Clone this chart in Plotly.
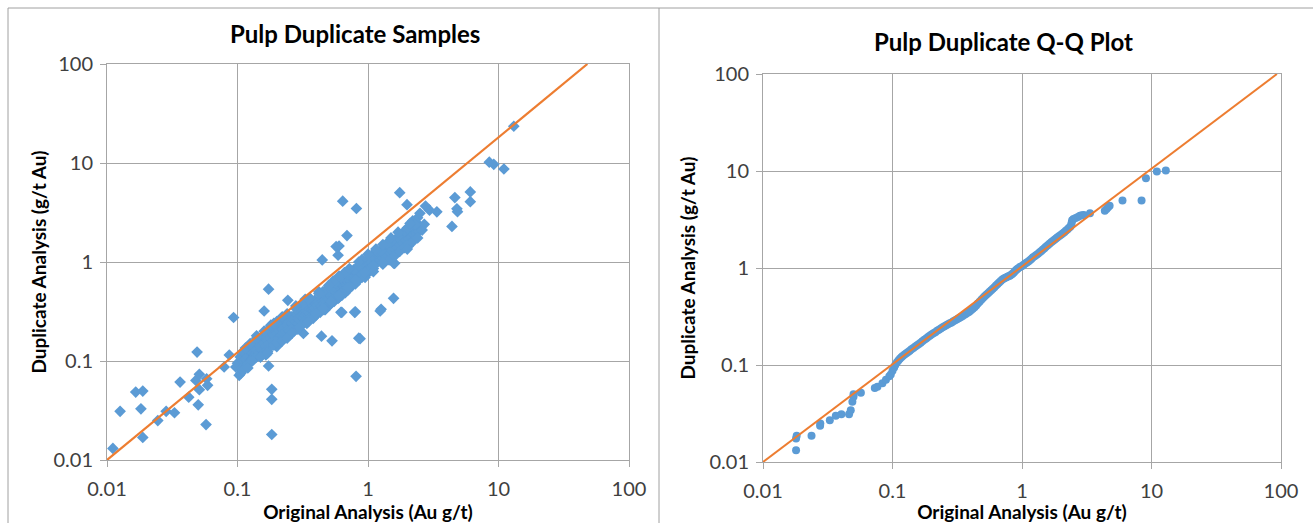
import plotly.graph_objects as go

# ---- data: left panel, original vs duplicate (g/t Au) ----
orig_au = [
    # low-grade outliers
    0.0111, 0.0126, 0.0166, 0.0188, 0.0182, 0.0188, 0.0245, 0.0284, 0.0329, 0.0363,
    0.0423, 0.049, 0.048, 0.051, 0.051, 0.05, 0.059, 0.0574, 0.058, 0.0933,
    0.0865, 0.079, 0.097, 0.103, 0.106, 0.183, 0.183, 0.183, 0.173, 0.173,
    0.81, 0.85, 0.87, 0.80, 1.26, 1.57, 1.57, 0.62, 0.53, 0.44,
    0.32, 0.243, 0.16, 0.446, 0.57, 0.6, 0.59, 0.64, 0.815, 1.75,
    1.99, 2.76, 2.96, 3.37, 4.63, 6.08, 6.08, 4.8, 4.85, 4.4,
    8.5, 9.2, 11.0, 13.1, 0.69, 1.24, 0.79, 0.63, 2.02, 1.6,
    # 0.10 - 0.15
    0.10, 0.105, 0.11, 0.11, 0.115, 0.12, 0.12, 0.125, 0.13, 0.13,
    0.135, 0.14, 0.14, 0.145, 0.15, 0.15, 0.155, 0.12, 0.13, 0.14,
    0.115, 0.125, 0.108, 0.118,
    # 0.15 - 0.25
    0.16, 0.16, 0.165, 0.17, 0.17, 0.175, 0.18, 0.18, 0.185, 0.19,
    0.19, 0.195, 0.2, 0.2, 0.205, 0.21, 0.21, 0.215, 0.22, 0.22,
    0.225, 0.23, 0.23, 0.235, 0.24, 0.245, 0.25, 0.17, 0.19, 0.21,
    0.23, 0.25, 0.165, 0.2, 0.24, 0.2, 0.18,
    # 0.25 - 0.40
    0.26, 0.26, 0.27, 0.27, 0.28, 0.28, 0.29, 0.29, 0.3, 0.3,
    0.31, 0.31, 0.32, 0.32, 0.33, 0.33, 0.34, 0.34, 0.35, 0.35,
    0.36, 0.36, 0.37, 0.37, 0.38, 0.38, 0.39, 0.39, 0.4, 0.4,
    0.27, 0.29, 0.31, 0.33, 0.35, 0.37, 0.39, 0.28, 0.32, 0.36,
    0.3, 0.34, 0.38,
    # 0.40 - 0.70
    0.41, 0.42, 0.42, 0.43, 0.44, 0.44, 0.45, 0.46, 0.46, 0.47,
    0.48, 0.48, 0.49, 0.5, 0.5, 0.52, 0.52, 0.53, 0.54, 0.55,
    0.55, 0.56, 0.57, 0.58, 0.58, 0.6, 0.6, 0.62, 0.62, 0.63,
    0.64, 0.65, 0.66, 0.67, 0.68, 0.69, 0.7, 0.7, 0.43, 0.47,
    0.51, 0.55, 0.59, 0.63, 0.67, 0.45, 0.5, 0.56, 0.62, 0.68,
    0.48, 0.53, 0.58, 0.64, 0.69,
    # 0.70 - 1.20
    0.72, 0.73, 0.74, 0.75, 0.76, 0.77, 0.78, 0.79, 0.8, 0.81,
    0.82, 0.83, 0.84, 0.85, 0.86, 0.87, 0.88, 0.9, 0.91, 0.92,
    0.94, 0.95, 0.96, 0.98, 1.0, 1.0, 1.02, 1.04, 1.05, 1.07,
    1.09, 1.1, 1.12, 1.14, 1.15, 1.17, 1.19, 1.2, 0.75, 0.8,
    0.85, 0.9, 0.95, 1.0, 1.05, 1.1, 0.78, 0.85, 0.92, 1.0,
    1.08, 0.88, 0.98,
    # 1.20 - 2.80
    1.22, 1.25, 1.27, 1.3, 1.32, 1.35, 1.38, 1.4, 1.43, 1.46,
    1.5, 1.53, 1.56, 1.6, 1.64, 1.68, 1.72, 1.76, 1.8, 1.85,
    1.9, 1.95, 2.0, 2.05, 2.1, 2.15, 2.2, 2.25, 2.3, 2.35,
    2.4, 2.45, 2.5, 1.3, 1.45, 1.6, 1.75, 1.9, 2.05, 1.5,
    1.7, 1.9, 2.1, 2.3, 2.0, 2.2, 2.4, 2.6, 2.7, 1.25,
    2.2, 2.4, 2.5, 2.3, 2.0,
    # extra spread of the main band
    0.11, 0.13, 0.15, 0.17, 0.19, 0.22, 0.26, 0.3, 0.35, 0.4,
    0.46, 0.52, 0.6, 0.7, 0.8, 0.95, 1.1, 1.3, 0.14, 0.18,
    0.24, 0.33, 0.42, 0.54, 0.66, 0.9, 1.15, 1.4, 1.7, 2.1,
    0.12, 0.15, 0.17, 0.2, 0.22, 0.26, 0.24, 0.14, 0.16, 0.19,
    0.22, 0.28, 0.35, 0.42, 0.5, 0.6, 0.72, 0.85, 1.0, 1.15,
    1.3, 1.5, 0.4, 0.45, 0.52, 0.6, 0.7, 0.8, 0.95, 1.1,
]
dup_au = [
    0.0131, 0.031, 0.0485, 0.0497, 0.0329, 0.0169, 0.025, 0.031, 0.030, 0.0612,
    0.0431, 0.123, 0.0637, 0.0733, 0.0513, 0.0361, 0.0568, 0.0228, 0.066, 0.275,
    0.115, 0.087, 0.087, 0.0716, 0.075, 0.0517, 0.041, 0.0181, 0.089, 0.531,
    0.07, 0.17, 0.168, 0.314, 0.333, 0.43, 0.975, 0.31, 0.16, 0.178,
    0.19, 0.41, 0.32, 1.05, 1.43, 1.45, 1.17, 4.12, 3.47, 5.02,
    3.79, 3.67, 3.34, 3.21, 4.47, 5.1, 4.07, 3.45, 3.22, 2.29,
    10.2, 9.7, 8.7, 23.5, 1.85, 0.32, 0.31, 0.31, 1.43, 0.97,
    0.095, 0.11, 0.10, 0.125, 0.105, 0.11, 0.13, 0.10, 0.12, 0.14,
    0.115, 0.13, 0.155, 0.12, 0.14, 0.165, 0.13, 0.095, 0.105, 0.11,
    0.135, 0.15, 0.085, 0.09,
    0.15, 0.175, 0.14, 0.16, 0.19, 0.15, 0.17, 0.2, 0.16, 0.18,
    0.21, 0.165, 0.19, 0.22, 0.17, 0.2, 0.23, 0.18, 0.21, 0.24,
    0.19, 0.22, 0.26, 0.2, 0.23, 0.21, 0.25, 0.13, 0.145, 0.155,
    0.17, 0.2, 0.115, 0.14, 0.29, 0.25, 0.225,
    0.24, 0.28, 0.22, 0.26, 0.25, 0.3, 0.24, 0.27, 0.26, 0.31,
    0.28, 0.33, 0.27, 0.3, 0.29, 0.35, 0.3, 0.32, 0.31, 0.37,
    0.3, 0.34, 0.33, 0.39, 0.32, 0.36, 0.34, 0.41, 0.35, 0.38,
    0.2, 0.21, 0.23, 0.25, 0.26, 0.28, 0.29, 0.34, 0.38, 0.43,
    0.22, 0.24, 0.27,
    0.37, 0.4, 0.35, 0.38, 0.42, 0.36, 0.4, 0.44, 0.38, 0.42,
    0.46, 0.4, 0.44, 0.48, 0.42, 0.46, 0.5, 0.44, 0.49, 0.52,
    0.46, 0.5, 0.55, 0.49, 0.53, 0.57, 0.51, 0.55, 0.6, 0.53,
    0.58, 0.63, 0.56, 0.61, 0.66, 0.58, 0.64, 0.68, 0.31, 0.33,
    0.37, 0.4, 0.43, 0.46, 0.49, 0.5, 0.56, 0.62, 0.7, 0.76,
    0.35, 0.39, 0.45, 0.5, 0.53,
    0.66, 0.7, 0.63, 0.72, 0.68, 0.75, 0.66, 0.73, 0.78, 0.7,
    0.76, 0.82, 0.73, 0.8, 0.86, 0.76, 0.83, 0.88, 0.79, 0.86,
    0.92, 0.83, 0.9, 0.96, 0.87, 0.94, 1.0, 0.9, 0.98, 1.04,
    0.94, 1.02, 1.08, 0.97, 1.05, 1.12, 1.0, 1.09, 0.57, 0.62,
    0.66, 0.7, 0.74, 0.78, 0.82, 0.86, 0.84, 0.92, 1.0, 1.08,
    1.16, 0.72, 0.8,
    1.14, 1.05, 1.18, 1.1, 1.24, 1.15, 1.3, 1.2, 1.35, 1.26,
    1.4, 1.3, 1.47, 1.36, 1.53, 1.42, 1.6, 1.5, 1.68, 1.56,
    1.76, 1.64, 1.84, 1.72, 1.92, 1.8, 2.0, 1.88, 2.1, 1.95,
    2.2, 2.05, 2.3, 0.95, 1.05, 1.15, 1.28, 1.4, 1.52, 1.6,
    1.8, 2.05, 2.3, 2.5, 1.35, 1.6, 1.75, 2.1, 2.4, 1.3,
    2.6, 2.8, 3.1, 2.4, 2.2,
    0.08, 0.1, 0.11, 0.125, 0.145, 0.16, 0.19, 0.22, 0.25, 0.29,
    0.33, 0.38, 0.44, 0.52, 0.6, 0.7, 0.8, 0.98, 0.18, 0.23,
    0.3, 0.42, 0.5, 0.64, 0.78, 1.06, 1.3, 1.55, 2.0, 2.45,
    0.085, 0.11, 0.12, 0.155, 0.16, 0.19, 0.17, 0.17, 0.2, 0.24,
    0.28, 0.36, 0.42, 0.48, 0.58, 0.72, 0.86, 1.0, 1.2, 1.35,
    1.5, 1.75, 0.3, 0.34, 0.4, 0.46, 0.55, 0.66, 0.78, 0.92,
]

# ---- data: right panel, sorted quantiles ----
qq_orig = [
    0.018, 0.018, 0.0182, 0.0237, 0.0276, 0.0277, 0.0328, 0.0365, 0.0403, 0.0462,
    0.0476, 0.049, 0.05, 0.05, 0.057, 0.073, 0.0765, 0.0836, 0.089, 0.0945,
    0.097, 0.1, 0.103, 0.105, 0.108, 0.111, 0.114, 0.117, 0.12, 0.124,
    0.128, 0.132, 0.136, 0.14, 0.145, 0.15, 0.155, 0.16, 0.165, 0.17,
    0.176, 0.182, 0.188, 0.194, 0.2, 0.207, 0.214, 0.221, 0.228, 0.236,
    0.244, 0.252, 0.26, 0.268, 0.277, 0.286, 0.295, 0.305, 0.315, 0.325,
    0.335, 0.346, 0.357, 0.368, 0.38, 0.392, 0.404, 0.417, 0.43, 0.443,
    0.456, 0.47, 0.485, 0.5, 0.515, 0.53, 0.546, 0.562, 0.578, 0.595,
    0.612, 0.63, 0.648, 0.666, 0.685, 0.705, 0.725, 0.745, 0.765, 0.785,
    0.805, 0.825, 0.845, 0.865, 0.885, 0.905, 0.925, 0.95, 0.975, 1.0,
    1.03, 1.06, 1.09, 1.12, 1.15, 1.18, 1.21, 1.25, 1.29, 1.33,
    1.37, 1.41, 1.45, 1.49, 1.53, 1.58, 1.63, 1.68, 1.73, 1.78,
    1.83, 1.88, 1.94, 2.0, 2.06, 2.12, 2.18, 2.24, 2.3, 2.36,
    2.4, 2.42, 2.44, 2.5, 2.6, 2.7, 2.8, 2.9, 3.0, 3.35,
    4.36, 4.5, 4.62, 4.75, 5.97, 8.38, 9.06, 11.0, 12.9,
]
qq_dup = [
    0.0132, 0.0175, 0.0186, 0.0186, 0.0236, 0.0249, 0.027, 0.0299, 0.031, 0.031,
    0.0342, 0.0417, 0.047, 0.05, 0.0517, 0.058, 0.0597, 0.0648, 0.0703, 0.0766,
    0.08, 0.087, 0.094, 0.1, 0.106, 0.111, 0.116, 0.12, 0.124, 0.128,
    0.132, 0.136, 0.14, 0.145, 0.15, 0.155, 0.16, 0.165, 0.17, 0.176,
    0.182, 0.188, 0.194, 0.2, 0.206, 0.212, 0.218, 0.225, 0.231, 0.238,
    0.245, 0.251, 0.257, 0.263, 0.269, 0.275, 0.282, 0.289, 0.296, 0.304,
    0.311, 0.319, 0.327, 0.336, 0.345, 0.355, 0.366, 0.379, 0.394, 0.41,
    0.43, 0.45, 0.47, 0.49, 0.51, 0.53, 0.55, 0.57, 0.59, 0.61,
    0.635, 0.66, 0.685, 0.71, 0.735, 0.76, 0.78, 0.795, 0.81, 0.82,
    0.83, 0.85, 0.875, 0.9, 0.93, 0.96, 0.985, 1.01, 1.03, 1.05,
    1.08, 1.11, 1.14, 1.17, 1.2, 1.24, 1.28, 1.32, 1.36, 1.4,
    1.45, 1.5, 1.55, 1.6, 1.66, 1.72, 1.78, 1.84, 1.9, 1.96,
    2.02, 2.08, 2.14, 2.2, 2.27, 2.34, 2.42, 2.5, 2.58, 2.66,
    2.8, 2.95, 3.1, 3.2, 3.28, 3.36, 3.45, 3.5, 3.52, 3.67,
    3.9, 4.05, 4.24, 4.37, 4.95, 4.95, 8.41, 9.9, 10.1,
]

# reference lines (end points as drawn in the source charts)
left_line_x = [0.01, 48]
left_line_y = [0.01, 100]
right_line_x = [0.01, 93]
right_line_y = [0.01, 100]

tick_vals = [0.01, 0.1, 1, 10, 100]
tick_text = ["0.01", "0.1", "1", "10", "100"]

W, H = 1313, 523
FONT = "Lato, 'Open Sans', sans-serif"
BLUE = "#5B9BD5"
ORANGE = "#ED7D31"
GRID = "#A6A6A6"

fig = go.Figure()

fig.add_trace(go.Scatter(
    x=orig_au, y=dup_au, mode="markers", xaxis="x", yaxis="y",
    marker=dict(symbol="diamond", size=9, color=BLUE), hoverinfo="skip",
))
fig.add_trace(go.Scatter(
    x=left_line_x, y=left_line_y, mode="lines", xaxis="x", yaxis="y",
    line=dict(color=ORANGE, width=2.2), hoverinfo="skip",
))
fig.add_trace(go.Scatter(
    x=qq_orig, y=qq_dup, mode="markers", xaxis="x2", yaxis="y2",
    marker=dict(symbol="circle", size=8, color=BLUE), hoverinfo="skip",
))
fig.add_trace(go.Scatter(
    x=right_line_x, y=right_line_y, mode="lines", xaxis="x2", yaxis="y2",
    line=dict(color=ORANGE, width=2), hoverinfo="skip",
))


def px_x(v):
    return v / W


def px_y(v):
    return 1 - v / H


def axis(domain, anchor, title, standoff, is_x):
    return dict(
        type="log", range=[-2, 2], domain=domain, anchor=anchor,
        automargin=False,
        tickvals=tick_vals, ticktext=tick_text,
        tickfont=dict(family=FONT, size=20, color="#404040"),
        ticks="outside", ticklen=6, tickcolor=GRID,
        ticklabelstandoff=5 if is_x else 3,
        showgrid=True, gridcolor=GRID, gridwidth=1,
        showline=True, linecolor=GRID, linewidth=1, mirror=True,
        zeroline=False,
        title=dict(text=title, standoff=standoff,
                   font=dict(family=FONT, size=19, color="#000000", weight="bold")),
    )


x_title = "Original Analysis (Au g/t)"
y_title = "Duplicate Analysis (g/t Au)"

fig.update_layout(
    width=W, height=H,
    margin=dict(l=0, r=0, t=0, b=0),
    paper_bgcolor="white", plot_bgcolor="white",
    showlegend=False,
    xaxis=axis([px_x(107), px_x(629)], "y", x_title, 0, True),
    yaxis=axis([px_y(460), px_y(64)], "x", y_title, 1, False),
    xaxis2=axis([px_x(763), px_x(1281)], "y2", x_title, 0, True),
    yaxis2=axis([px_y(462), px_y(74)], "x2", y_title, 8, False),
)

title_font = dict(family=FONT, size=24, color="#000000", weight="bold")
fig.add_annotation(text="Pulp Duplicate Samples", x=px_x(355), y=px_y(33),
                   xref="paper", yref="paper", xanchor="center", yanchor="middle",
                   showarrow=False, font=title_font)
fig.add_annotation(text="Pulp Duplicate Q-Q Plot", x=px_x(1003), y=px_y(42),
                   xref="paper", yref="paper", xanchor="center", yanchor="middle",
                   showarrow=False, font=title_font)

# chart borders
border = dict(color="#A0A0A0", width=1)
fig.add_shape(type="line", xref="paper", yref="paper",
              x0=px_x(8), x1=1, y0=px_y(8), y1=px_y(8), line=border)
fig.add_shape(type="line", xref="paper", yref="paper",
              x0=px_x(8), x1=px_x(8), y0=px_y(8), y1=0, line=border)
fig.add_shape(type="line", xref="paper", yref="paper",
              x0=px_x(659), x1=px_x(659), y0=px_y(8), y1=0, line=border)

fig.write_html("out.html", config={"displayModeBar": False},
               post_script="document.body.style.margin='0';")
